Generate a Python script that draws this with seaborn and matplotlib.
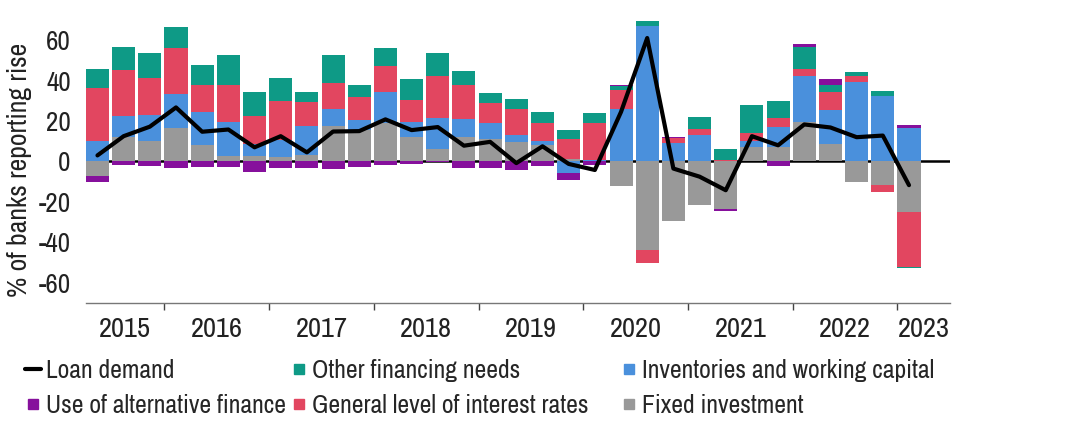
import numpy as np
import pandas as pd
import matplotlib
matplotlib.use("Agg")
import matplotlib.pyplot as plt
from matplotlib.lines import Line2D
import seaborn as sns

# quarterly survey rounds, 2015 Q2 .. 2023 Q1
quarters = [f"{y}Q{q}" for y in range(2015, 2024) for q in range(1, 5)][1:33]
years = ["2015", "2016", "2017", "2018", "2019", "2020", "2021", "2022", "2023"]

# net % of banks
loan_demand = [3.0, 12.5, 17.2, 26.7, 14.7, 15.8, 7.0, 12.5,
               4.5, 14.8, 15.0, 20.8, 15.5, 17.0, 7.8, 9.7,
               -0.8, 7.5, -1.2, -4.2, 24.5, 61.0, -3.5, -7.5,
               -14.2, 12.5, 8.0, 18.3, 16.8, 12.0, 12.8, -11.7]
fixed_investment = [-7.2, 12.0, 10.3, 16.3, 8.3, 2.5, 2.5, 2.0,
                    3.0, 17.3, 15.5, 19.2, 12.0, 6.3, 12.0, 11.3,
                    9.8, 8.3, 1.3, 0.0, -12.0, -43.7, -29.2, -21.5,
                    -23.3, 7.0, 7.0, 19.5, 8.8, -10.0, -11.7, -25.0]
inventories = [10.3, 10.3, 12.7, 17.0, 16.0, 16.8, 6.2, 8.8,
               14.3, 8.7, 4.8, 15.2, 7.3, 15.0, 9.0, 7.7,
               3.5, 2.0, -5.7, 0.8, 26.0, 67.0, 9.0, 13.3,
               0.0, 3.0, 10.0, 22.8, 16.5, 39.3, 32.3, 16.5]
interest_rates = [25.8, 23.0, 18.3, 23.0, 13.7, 18.7, 13.8, 19.2,
                  12.0, 13.0, 11.8, 13.0, 11.0, 21.0, 17.0, 10.0,
                  12.7, 8.7, 9.7, 18.0, 9.3, -6.3, 2.5, 2.8,
                  0.8, 4.3, 4.3, 3.5, 8.8, 3.0, -3.3, -27.0]
other_financing = [9.7, 11.5, 12.5, 10.0, 9.8, 14.8, 11.8, 11.3,
                   5.0, 13.8, 5.8, 8.5, 10.5, 11.5, 6.8, 4.8,
                   4.8, 5.3, 4.8, 5.3, 1.8, 2.2, 0.0, 5.8,
                   5.5, 13.5, 8.5, 11.0, 3.7, 2.0, 2.5, -0.5]
alternative_finance = [-3.0, -1.7, -2.0, -3.0, -2.5, -2.5, -5.0, -3.0,
                       -3.0, -3.7, -2.5, -1.7, -1.0, -0.5, -3.0, -3.0,
                       -4.0, -2.0, -3.3, -1.7, 0.7, 0.0, 0.8, 0.3,
                       -1.3, 0.0, -2.0, 1.0, 3.0, 0.0, 0.0, 1.3]

df = pd.DataFrame({
    "Fixed investment": fixed_investment,
    "Inventories and working capital": inventories,
    "General level of interest rates": interest_rates,
    "Other financing needs": other_financing,
    "Use of alternative finance": alternative_finance,
    "Loan demand": loan_demand,
}, index=quarters)

colors = {
    "Fixed investment": "#999999",
    "Inventories and working capital": "#4a90dc",
    "General level of interest rates": "#e24660",
    "Other financing needs": "#0e9a86",
    "Use of alternative finance": "#86109c",
}

sns.set_theme(style="white")
plt.rcParams["font.family"] = ["Archivo Narrow", "Liberation Sans", "DejaVu Sans"]
plt.rcParams["axes.unicode_minus"] = False

fig = plt.figure(figsize=(10.88, 4.4), dpi=100)
ax = fig.add_axes([0.079, 0.311, 0.794, 0.644])

x = np.arange(len(df))
pos_base = np.zeros(len(df))
neg_base = np.zeros(len(df))
for name, col in colors.items():
    v = df[name].to_numpy()
    base = np.where(v >= 0, pos_base, neg_base)
    ax.bar(x, v, bottom=base, width=0.88, color=col, linewidth=0, zorder=2)
    pos_base += np.clip(v, 0, None)
    neg_base += np.clip(v, None, 0)

ax.axhline(0, color="black", lw=1.8, zorder=1)
sns.lineplot(x=x, y=df["Loan demand"].to_numpy(), color="black", linewidth=3,
             ax=ax, zorder=3, legend=False)

ax.set_xlim(-0.44, 32.56)
ax.set_ylim(-70, 70)

# year boundaries + centred labels
bounds = [-0.44, 2.56, 6.56, 10.56, 14.56, 18.56, 22.56, 26.56, 30.56, 32.56]
centres = [(a + b) / 2 for a, b in zip(bounds[:-1], bounds[1:])]
ax.set_xticks(centres)
ax.set_xticklabels(years)
ax.set_xticks(bounds[1:-1], minor=True)
ax.tick_params(axis="x", which="major", length=0, pad=10, labelsize=20.5, colors="#222222")
ax.tick_params(axis="x", which="minor", bottom=True, length=5, width=1, color="#444444")

ax.set_yticks(range(-60, 61, 20))
ax.tick_params(axis="y", length=0, pad=11, labelsize=19.5, colors="#222222")
ax.set_xlabel("")
ax.set_ylabel("% of banks reporting rise", fontsize=20, color="#222222")
ax.yaxis.set_label_coords(-0.062, 0.47)

for s in ["top", "right", "left"]:
    ax.spines[s].set_visible(False)
ax.spines["bottom"].set_color("#777777")
ax.spines["bottom"].set_linewidth(1)
ax.grid(False)

def sq(c):
    return Line2D([0], [0], marker="s", ls="none", color=c, markersize=7.5)

# legend: three columns of two rows, placed like the original
legend_cols = [
    (25, [(Line2D([0], [0], color="black", lw=3), "Loan demand"),
          (sq(colors["Use of alternative finance"]), "Use of alternative finance")]),
    (291, [(sq(colors["Other financing needs"]), "Other financing needs"),
           (sq(colors["General level of interest rates"]), "General level of interest rates")]),
    (621, [(sq(colors["Inventories and working capital"]), "Inventories and working capital"),
           (sq(colors["Fixed investment"]), "Fixed investment")]),
]
for xpos, entries in legend_cols:
    fig.legend([h for h, _ in entries], [l for _, l in entries], ncol=1, loc="upper left",
               bbox_to_anchor=(xpos / 1088, 1 - 359 / 440), frameon=False,
               fontsize=18.5, handlelength=0.62, handletextpad=0.2,
               labelspacing=0.45, borderpad=0, borderaxespad=0)

fig.savefig("out.png", dpi=100)
